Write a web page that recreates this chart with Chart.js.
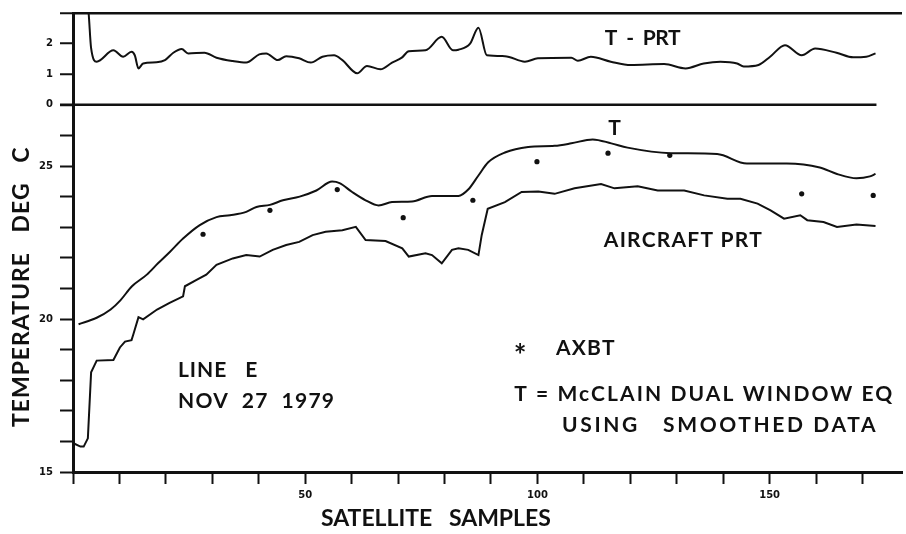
<!DOCTYPE html>
<html>
<head>
<meta charset="utf-8">
<script src="https://cdn.jsdelivr.net/npm/chart.js@4/dist/chart.umd.min.js"></script>
<style>
    html, body { margin: 0; padding: 0; background: #fff; }
    #wrap { width: 906px; height: 534px; position: relative; }
</style>
</head>
<body>
<div id="wrap"><canvas id="chartLineE"></canvas></div>
<script>
// ========================================
// DATA
// ========================================
// T - PRT, upper panel
const diffSamples = [0, 3.3, 3.9, 5.1, 8.7, 10.8, 12.6, 13.3, 14.1, 15.1, 18, 19.8, 21.6, 23.4, 24.8, 28.3,
    30.9, 34.4, 37.3, 40.1, 41.6, 44.1, 45.9, 48.7, 51.2, 53.7, 56.2, 58, 61.2, 63.3, 66.2, 68.7, 70.8, 72.3,
    75.9, 79.4, 81.8, 83, 85.5, 87.3, 89.1, 93, 97.3, 100.1, 107.3, 108.7, 111.5, 115.8, 120.1, 127.3, 131.9,
    135.8, 139.4, 143, 144.4, 147.6, 150.1, 153.3, 156.9, 159.8, 164.4, 168, 170.8, 172.8];
const diffValues = [4.7, 3.1, 1.85, 1.41, 1.78, 1.57, 1.73, 1.62, 1.19, 1.35, 1.39, 1.46, 1.70, 1.82, 1.68, 1.70,
    1.54, 1.43, 1.38, 1.65, 1.68, 1.46, 1.59, 1.52, 1.38, 1.57, 1.62, 1.46, 1.03, 1.27, 1.16, 1.38, 1.54, 1.75,
    1.78, 2.22, 1.78, 1.80, 2.0, 2.52, 1.62, 1.59, 1.41, 1.52, 1.54, 1.44, 1.57, 1.41, 1.30, 1.33, 1.19,
    1.35, 1.41, 1.35, 1.25, 1.30, 1.57, 1.95, 1.62, 1.84, 1.70, 1.55, 1.57, 1.68];

// T, McClain dual window equation
const tSamples = [1.2, 5.1, 8.1, 10.2, 12.7, 15.9, 18.3, 20.9, 23.7, 27.3, 30.9, 33.8, 37.3, 39.5, 42.4, 45.2,
    48.8, 52.4, 55.8, 57.4, 60.1, 63, 65.8, 68.7, 73, 77.3, 83, 85.1, 87.3, 89.4, 93, 98, 103.7, 107.3, 111.9,
    115.9, 119.4, 128.7, 138.7, 145.1, 153.7, 160.8, 164.5, 168.7, 171.6, 172.8];
const tValues = [19.83, 20.04, 20.31, 20.61, 21.07, 21.45, 21.82, 22.2, 22.63, 23.07, 23.33, 23.39, 23.5, 23.66, 23.73, 23.88,
    24.0, 24.2, 24.49, 24.44, 24.15, 23.88, 23.71, 23.82, 23.84, 24.02, 24.02, 24.23, 24.69, 25.12, 25.44, 25.62, 25.66, 25.74, 25.87,
    25.74, 25.6, 25.42, 25.39, 25.08, 25.08, 24.95, 24.74, 24.6, 24.66, 24.74];

// Aircraft PRT
const prtSamples = [0.1, 1.6, 2.3, 3.2, 3.9, 5.1, 8.7, 10.1, 11.2, 12.6, 13.0, 14.1, 15.1, 18.1, 20.8, 23.7,
    24.1, 26.6, 28.7, 30.9, 34.4, 37.3, 40.2, 43.0, 45.9, 48.7, 51.6, 54.4, 58, 60.9, 63.0, 67.3, 70.9, 72.3,
    75.9, 77.3, 79.4, 81.6, 83, 85.1, 87.3, 88, 89.3, 93, 96.6, 100.2, 103.7, 108, 113.7, 116.6, 121.6, 125.9,
    131.6, 135.9, 140.9, 143.7, 147.4, 150.2, 153.1, 156.6, 158.1, 161.6, 164.5, 168.7, 172.8];
const prtValues = [15.94, 15.83, 15.83, 16.1, 18.26, 18.64, 18.66, 19.07, 19.26, 19.31, 19.5, 20.06, 19.99, 20.31, 20.53, 20.74,
    21.07, 21.28, 21.45, 21.77, 21.98, 22.09, 22.04, 22.26, 22.42, 22.52, 22.74, 22.85, 22.9, 23.01, 22.58, 22.55, 22.31, 22.04,
    22.15, 22.09, 21.82, 22.26, 22.31, 22.26, 22.09, 22.74, 23.6, 23.82, 24.15, 24.17, 24.09, 24.27, 24.41, 24.27, 24.34, 24.2,
    24.2, 24.04, 23.93, 23.93, 23.77, 23.55, 23.28, 23.39, 23.23, 23.17, 23.01, 23.09, 23.04];

// AXBT drops
const axbtSamples = [28.0, 42.4, 56.9, 71.1, 86.1, 99.9, 115.2, 128.5, 156.9, 172.3];
const axbtValues = [22.77, 23.55, 24.23, 23.31, 23.88, 25.14, 25.42, 25.35, 24.09, 24.04];

// Axis labels
const bottomTickLabels = [15, 20, 25];
const topTickLabels = [0, 1, 2];
const xTickLabels = [50, 100, 150];

// ========================================
// CONFIG
// ========================================
const INK = '#111';
const FONT = 'Lato, "DejaVu Sans", sans-serif';
const TICK_FONT = '"DejaVu Sans", sans-serif';

function toPoints(xs, ys) {
    return xs.map((x, i) => ({ x: x, y: ys[i] }));
}

// Draws text from px0 so that it ends at px1 (stretches letter spacing)
function fitText(ctx, text, px0, px1, py) {
    ctx.letterSpacing = '0px';
    const w0 = ctx.measureText(text).width;
    const gap = (px1 - px0 - w0) / Math.max(text.length - 1, 1);
    ctx.letterSpacing = gap.toFixed(2) + 'px';
    ctx.textAlign = 'left';
    ctx.fillText(text, px0, py);
}

// Free text drawn in data coordinates
const annotationPlugin = {
    id: 'annotations',
    afterDraw(chart) {
        const ctx = chart.ctx;
        const x = chart.scales.x;
        const y = chart.scales.y;
        const yTop = chart.scales.yTop;
        const area = chart.chartArea;
        const px = v => x.getPixelForValue(v);
        const py = v => y.getPixelForValue(v);

        ctx.save();
        // zero line of T - PRT panel, stops at the last sample
        ctx.strokeStyle = INK;
        ctx.lineWidth = 2.5;
        ctx.beginPath();
        ctx.moveTo(area.left, yTop.getPixelForValue(0));
        ctx.lineTo(px(173), yTop.getPixelForValue(0));
        ctx.stroke();

        ctx.fillStyle = INK;
        ctx.textBaseline = 'middle';
        ctx.font = 'bold 21px ' + FONT;

        fitText(ctx, 'T  -  PRT', px(114.5), px(130.8), yTop.getPixelForValue(2.16));
        fitText(ctx, 'AIRCRAFT PRT', px(114.3), px(148.3), py(22.58));
        fitText(ctx, 'LINE   E', px(22.6), px(39.7), py(18.32));
        fitText(ctx, 'NOV  27  1979', px(22.6), px(56.2), py(17.31));
        fitText(ctx, 'AXBT', px(104.0), px(116.6), py(19.06));
        fitText(ctx, 'T = McCLAIN DUAL WINDOW EQ', px(95.0), px(176.4), py(17.54));
        fitText(ctx, 'USING   SMOOTHED DATA', px(105.3), px(172.8), py(16.53));

        ctx.letterSpacing = '0px';
        ctx.textAlign = 'center';
        ctx.fillText('T', px(116.6), py(26.25));
        ctx.font = 'bold 30px ' + FONT;
        ctx.fillText('*', px(96.3), py(18.78));

        // axis titles
        ctx.font = 'bold 23px ' + FONT;
        fitText(ctx, 'SATELLITE   SAMPLES', px(53.4), px(102.9), area.bottom + 47);

        ctx.translate(area.left - 51, 0);
        ctx.rotate(-Math.PI / 2);
        fitText(ctx, 'TEMPERATURE   DEG   C', -py(16.47), -py(25.6), 0);
        ctx.restore();
    }
};

// ========================================
// CHART
// ========================================
let chartLineE = null;

function inicializarGrafico() {
    const tickFont = { family: TICK_FONT, size: 10, weight: 'bold' };

    chartLineE = new Chart(document.getElementById('chartLineE'), {
        type: 'line',
        data: {
            datasets: [
                {
                    label: 'T - PRT',
                    data: toPoints(diffSamples, diffValues),
                    yAxisID: 'yTop',
                    borderColor: INK,
                    borderWidth: 2,
                    pointRadius: 0,
                    cubicInterpolationMode: 'monotone'
                },
                {
                    label: 'T',
                    data: toPoints(tSamples, tValues),
                    yAxisID: 'y',
                    borderColor: INK,
                    borderWidth: 2,
                    pointRadius: 0,
                    cubicInterpolationMode: 'monotone'
                },
                {
                    label: 'Aircraft PRT',
                    data: toPoints(prtSamples, prtValues),
                    yAxisID: 'y',
                    borderColor: INK,
                    borderWidth: 2,
                    pointRadius: 0,
                    tension: 0
                },
                {
                    label: 'AXBT',
                    data: toPoints(axbtSamples, axbtValues),
                    yAxisID: 'y',
                    showLine: false,
                    pointRadius: 2.6,
                    pointBackgroundColor: INK,
                    pointBorderWidth: 0
                }
            ]
        },
        options: {
            responsive: true,
            maintainAspectRatio: false,
            animation: false,
            layout: { padding: { top: 9, right: 0, left: 0, bottom: 0 } },
            plugins: {
                legend: { display: false },
                tooltip: { enabled: false }
            },
            scales: {
                x: {
                    type: 'linear',
                    min: 0,
                    max: 178.5,
                    border: { display: true, color: INK, width: 3 },
                    grid: { drawOnChartArea: false, tickLength: 12, tickWidth: 2, tickColor: INK },
                    ticks: {
                        stepSize: 10,
                        includeBounds: false,
                        maxRotation: 0,
                        autoSkip: false,
                        padding: 5,
                        color: INK,
                        font: tickFont,
                        callback: v => xTickLabels.includes(v) ? String(v) : ''
                    },
                    afterFit: scale => { scale.height = 62; }
                },
                y: {
                    type: 'linear',
                    position: 'left',
                    stack: 'panels',
                    stackWeight: 12,
                    min: 15,
                    max: 27,
                    border: { display: true, color: INK, width: 3 },
                    grid: { drawOnChartArea: false, tickLength: 13, tickWidth: 2, tickColor: INK },
                    ticks: {
                        stepSize: 1,
                        autoSkip: false,
                        padding: 7,
                        color: INK,
                        font: tickFont,
                        callback: v => bottomTickLabels.includes(v) ? String(v) : ''
                    },
                    afterFit: scale => { scale.width = 73; }
                },
                yTop: {
                    type: 'linear',
                    position: 'left',
                    stack: 'panels',
                    stackWeight: 3,
                    min: 0,
                    max: 3,
                    border: { display: true, color: INK, width: 3 },
                    grid: {
                        drawOnChartArea: true,
                        tickLength: 13,
                        tickWidth: 2,
                        tickColor: INK,
                        lineWidth: 2.5,
                        color: c => (c.tick && c.tick.value === 3) ? INK : 'rgba(0,0,0,0)'
                    },
                    ticks: {
                        stepSize: 1,
                        autoSkip: false,
                        padding: 7,
                        color: INK,
                        font: tickFont,
                        callback: v => topTickLabels.includes(v) ? String(v) : ''
                    },
                    afterFit: scale => { scale.width = 73; }
                }
            }
        },
        plugins: [annotationPlugin]
    });
}

document.addEventListener('DOMContentLoaded', inicializarGrafico);
</script>
</body>
</html>
